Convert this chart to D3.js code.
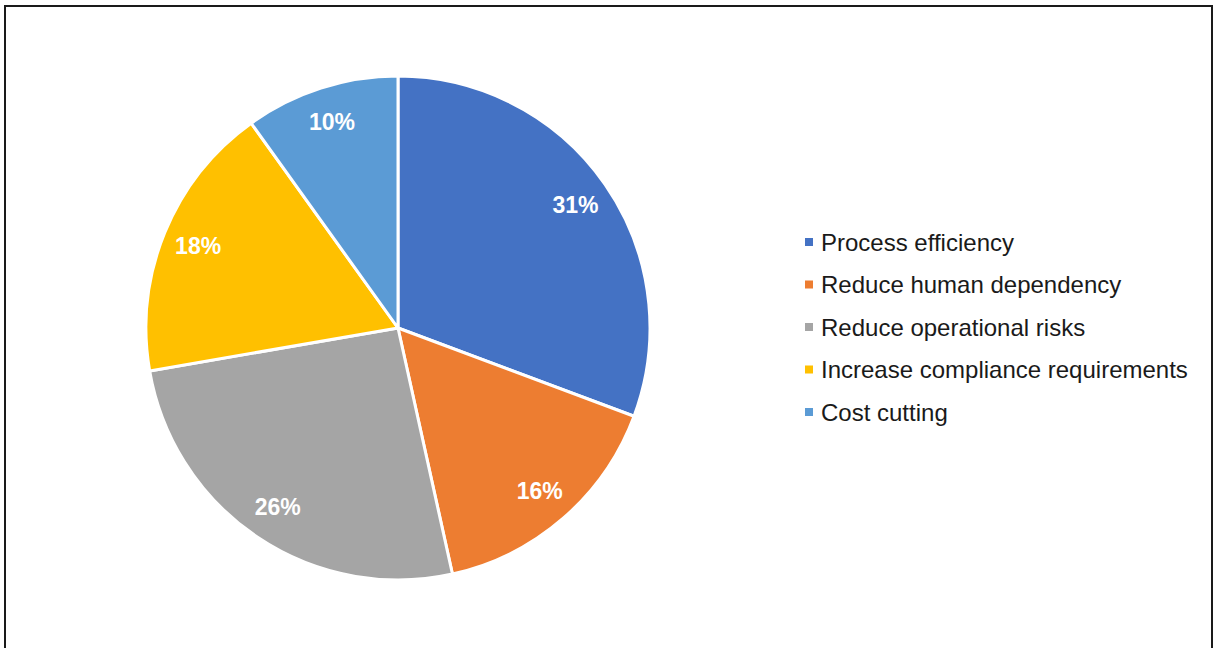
<!DOCTYPE html>
<html>
<head>
<meta charset="utf-8">
<script src="https://cdn.jsdelivr.net/npm/d3@7"></script>
<style>
  html, body { margin: 0; padding: 0; background: #fff; }
  svg { display: block; }
</style>
</head>
<body>
<svg id="chart" width="1216" height="648"></svg>
<script>
// Reasons for adoption, share of respondents (%)
const categories = [
  "Process efficiency",
  "Reduce human dependency",
  "Reduce operational risks",
  "Increase compliance requirements",
  "Cost cutting"
];
const values = [31, 16, 26, 18, 10];
const colors = ["#4472C4", "#ED7D31", "#A5A5A5", "#FFC000", "#5B9BD5"];

const svg = d3.select("#chart");

// Outer frame
svg.append("rect")
  .attr("x", 5).attr("y", 6)
  .attr("width", 1207).attr("height", 660)
  .attr("fill", "none")
  .attr("stroke", "#1a1a1a")
  .attr("stroke-width", 2);

const cx = 398, cy = 328, R = 252;

const pie = d3.pie().sort(null).value(d => d.value);
const arcs = pie(categories.map((c, i) => ({ name: c, value: values[i], color: colors[i] })));

const arc = d3.arc().innerRadius(0).outerRadius(R);
const labelArc = d3.arc().innerRadius(216).outerRadius(216);

const g = svg.append("g").attr("transform", `translate(${cx},${cy})`);

g.selectAll("path.slice")
  .data(arcs)
  .join("path")
  .attr("class", "slice")
  .attr("d", arc)
  .attr("fill", d => d.data.color)
  .attr("stroke", "#fff")
  .attr("stroke-width", 3)
  .attr("stroke-linejoin", "round");

g.selectAll("text.pct")
  .data(arcs)
  .join("text")
  .attr("class", "pct")
  .attr("transform", d => `translate(${labelArc.centroid(d)})`)
  .attr("text-anchor", "middle")
  .attr("dominant-baseline", "central")
  .attr("font-family", "'Liberation Sans', Arial, sans-serif")
  .attr("font-weight", "bold")
  .attr("font-size", 23)
  .attr("fill", "#fff")
  .text(d => d.data.value + "%");

// Legend
const legend = svg.append("g").attr("transform", "translate(805,242)");
const rowH = 42.5;
const items = legend.selectAll("g.item")
  .data(categories)
  .join("g")
  .attr("class", "item")
  .attr("transform", (d, i) => `translate(0,${i * rowH})`);

items.append("rect")
  .attr("x", 0).attr("y", -4)
  .attr("width", 8).attr("height", 8)
  .attr("fill", (d, i) => colors[i]);

items.append("text")
  .attr("x", 16)
  .attr("y", 0)
  .attr("dominant-baseline", "central")
  .attr("font-family", "'Liberation Sans', Arial, sans-serif")
  .attr("font-size", 24)
  .attr("fill", "#1a1a1a")
  .text(d => d);
</script>
</body>
</html>
